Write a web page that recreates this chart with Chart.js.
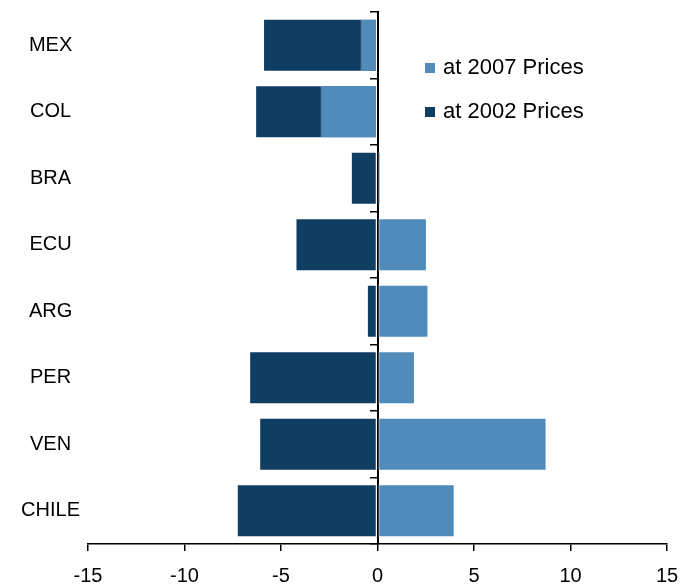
<!DOCTYPE html>
<html>
<head>
<meta charset="utf-8">
<script src="https://cdn.jsdelivr.net/npm/chart.js@4/dist/chart.umd.min.js"></script>
<style>
  html, body { margin: 0; padding: 0; background: #ffffff; }
  #c { display: block; }
</style>
</head>
<body>
<canvas id="c" width="681" height="584"></canvas>
<script>
const categories = ['MEX', 'COL', 'BRA', 'ECU', 'ARG', 'PER', 'VEN', 'CHILE'];
const prices2007 = [-0.88, -2.95, 0.17, 2.56, 2.64, 1.94, 8.76, 4.0];
const prices2002 = [-5.93, -6.34, -1.38, -4.25, -0.55, -6.65, -6.13, -7.29];
const seriesLabels = ['at 2007 Prices', 'at 2002 Prices'];
const xTicks = [-15, -10, -5, 0, 5, 10, 15];

const FONT = "'Liberation Sans', Arial, sans-serif";
const LIGHT = '#508bba';
const DARK = '#103e63';

const legendPlugin = {
  id: 'insideLegend',
  afterDraw(chart) {
    const ctx = chart.ctx;
    ctx.save();
    ctx.font = '22px ' + FONT;
    ctx.textBaseline = 'middle';
    ctx.textAlign = 'left';
    const rows = [68, 112];
    chart.data.datasets.forEach((ds, i) => {
      ctx.fillStyle = ds.backgroundColor;
      ctx.fillRect(425, rows[i] - 5, 10, 10);
      ctx.fillStyle = '#000000';
      ctx.fillText(ds.label, 443, rows[i]);
    });
    ctx.restore();
  }
};

function noPad(scale) {
  scale.paddingTop = 0;
  scale.paddingBottom = 0;
  scale.paddingLeft = 0;
  scale.paddingRight = 0;
}

new Chart(document.getElementById('c'), {
  type: 'bar',
  data: {
    labels: categories,
    datasets: [
      {
        label: seriesLabels[0],
        data: prices2007,
        backgroundColor: LIGHT,
        borderColor: 'rgba(255,255,255,0.45)',
        borderWidth: 1,
        borderSkipped: false,
        grouped: false
      },
      {
        label: seriesLabels[1],
        data: prices2002,
        backgroundColor: DARK,
        borderColor: 'rgba(255,255,255,0.35)',
        borderWidth: 1,
        borderSkipped: false,
        grouped: false
      }
    ]
  },
  options: {
    indexAxis: 'y',
    responsive: false,
    animation: false,
    maintainAspectRatio: false,
    categoryPercentage: 0.8,
    barPercentage: 1.0,
    layout: { padding: { top: 12, right: 14, left: 0, bottom: 0 } },
    plugins: {
      legend: { display: false },
      tooltip: { enabled: false }
    },
    scales: {
      x: {
        type: 'linear',
        position: 'bottom',
        min: -15,
        max: 15,
        afterBuildTicks(scale) { scale.ticks = xTicks.map(v => ({ value: v })); },
        afterFit(scale) { noPad(scale); scale.height = 40; },
        ticks: {
          color: '#000000',
          font: { size: 20, family: FONT },
          padding: 13,
          maxRotation: 0
        },
        grid: {
          drawOnChartArea: false,
          drawTicks: true,
          tickLength: 7,
          color: '#000000',
          lineWidth: 1.5
        },
        border: { display: true, color: '#000000', width: 1.5 }
      },
      y: {
        type: 'category',
        position: 'left',
        afterFit(scale) { noPad(scale); scale.width = 88; },
        ticks: {
          color: '#000000',
          font: { size: 20, family: FONT },
          crossAlign: 'center',
          padding: 8
        },
        grid: { display: false, drawTicks: false },
        border: { display: false }
      },
      yZero: {
        type: 'category',
        position: { x: 0 },
        offset: true,
        z: 1,
        afterFit(scale) { noPad(scale); },
        ticks: { display: false },
        grid: {
          offset: true,
          drawOnChartArea: false,
          drawTicks: true,
          tickLength: 7,
          color: '#000000',
          lineWidth: 1.5
        },
        border: { display: true, color: '#000000', width: 2 }
      }
    }
  },
  plugins: [legendPlugin]
});
</script>
</body>
</html>
